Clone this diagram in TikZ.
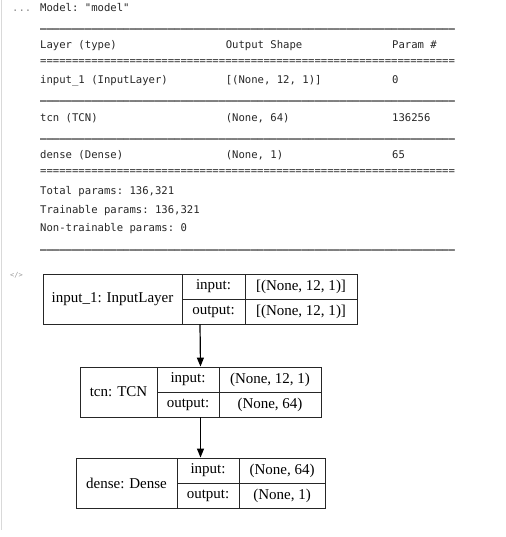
\documentclass[tikz,border=0pt]{standalone}
\usepackage{fontspec}
\setmainfont{Liberation Serif}
\setmonofont{DejaVu Sans Mono}
\usetikzlibrary{arrows.meta}
\newcommand\rfive{\_\_\_\_\_}
\newcommand\rline{\rfive\rfive\rfive\rfive\rfive\rfive\rfive\rfive\rfive\rfive\rfive\rfive\rfive}
\newcommand\efive{=====}
\newcommand\eline{\efive\efive\efive\efive\efive\efive\efive\efive\efive\efive\efive\efive\efive}
\tikzset{
  mono/.style={font=\ttfamily\fontsize{10.6}{12}\selectfont, anchor=base west, inner sep=0pt, text=black!85},
  monorule/.style={mono, font=\ttfamily\bfseries\fontsize{10.6}{12}\selectfont, text=black},
  cell/.style={draw=black!85, line width=0.9pt, inner sep=0pt, font=\fontsize{15}{17}\selectfont, minimum height=25pt},
  box/.style={draw=black!85, line width=0.9pt, inner sep=0pt},
  link/.style={-{Triangle[length=9pt,width=7pt]}, line width=1.2pt, black}
}
\begin{document}
\begin{tikzpicture}[x=1pt,y=-1pt]
\useasboundingbox (0,0) rectangle (505,537);
\draw[black!15, line width=1pt] (1.5,0) -- (1.5,530);
% summary text
\node[mono, text=black!45] (dots) at (12,11.5) {...};
\node[mono] (title) at (40,11.5) {Model: "model"};
\node[monorule] (r1) at (40,28) {\rline};
\node[mono] (h1) at (40,48.5) {Layer (type)};
\node[mono] (h2) at (225.6,48.5) {Output Shape};
\node[mono] (h3) at (392,48.5) {Param \#};
\node[mono] (e1) at (40,65) {\eline};
\node[mono] (a1) at (40,83.5) {input\_1 (InputLayer)};
\node[mono] (a2) at (225.6,83.5) {[(None, 12, 1)]};
\node[mono] (a3) at (392,83.5) {0};
\node[monorule] (r2) at (40,100) {\rline};
\node[mono] (b1) at (40,121.5) {tcn (TCN)};
\node[mono] (b2) at (225.6,121.5) {(None, 64)};
\node[mono] (b3) at (392,121.5) {136256};
\node[monorule] (r3) at (40,138) {\rline};
\node[mono] (c1) at (40,158.5) {dense (Dense)};
\node[mono] (c2) at (225.6,158.5) {(None, 1)};
\node[mono] (c3) at (392,158.5) {65};
\node[mono] (e2) at (40,175) {\eline};
\node[mono] (t1) at (40,194.5) {Total params: 136,321};
\node[mono] (t2) at (40,213.5) {Trainable params: 136,321};
\node[mono] (t3) at (40,231.5) {Non-trainable params: 0};
\node[monorule] (r4) at (40,248) {\rline};
\node[mono, text=black!40, font=\ttfamily\fontsize{7}{8}\selectfont] (code) at (10,277) {</>};
% diagram box 1
\node[box, minimum width=314pt, minimum height=50pt] (box1) at (200,299) {};
\node[cell, minimum width=139pt, minimum height=50pt] (n1) at (112.5,299) {input\_1: InputLayer};
\node[cell, minimum width=63pt] (n1i) at (213.5,286.5) {input:};
\node[cell, minimum width=112pt] (n1iv) at (301,286.5) {[(None, 12, 1)]};
\node[cell, minimum width=63pt] (n1o) at (213.5,311.5) {output:};
\node[cell, minimum width=112pt] (n1ov) at (301,311.5) {[(None, 12, 1)]};
% box 2
\node[box, minimum width=241pt, minimum height=50pt] (box2) at (200.5,392) {};
\node[cell, minimum width=77pt, minimum height=50pt] (n2) at (118.5,392) {tcn: TCN};
\node[cell, minimum width=62pt] (n2i) at (188,379.5) {input:};
\node[cell, minimum width=102pt] (n2iv) at (270,379.5) {(None, 12, 1)};
\node[cell, minimum width=62pt] (n2o) at (188,404.5) {output:};
\node[cell, minimum width=102pt] (n2ov) at (270,404.5) {(None, 64)};
% box 3
\node[box, minimum width=249pt, minimum height=50pt] (box3) at (200.5,483) {};
\node[cell, minimum width=101pt, minimum height=50pt] (n3) at (126.5,483) {dense: Dense};
\node[cell, minimum width=62pt] (n3i) at (208,470.5) {input:};
\node[cell, minimum width=86pt] (n3iv) at (282,470.5) {(None, 64)};
\node[cell, minimum width=62pt] (n3o) at (208,495.5) {output:};
\node[cell, minimum width=86pt] (n3ov) at (282,495.5) {(None, 1)};
% connectors
\draw[link] (box1.south) -- (box2.north);
\draw[link] (box2.south) -- (box3.north);
\end{tikzpicture}
\end{document}
